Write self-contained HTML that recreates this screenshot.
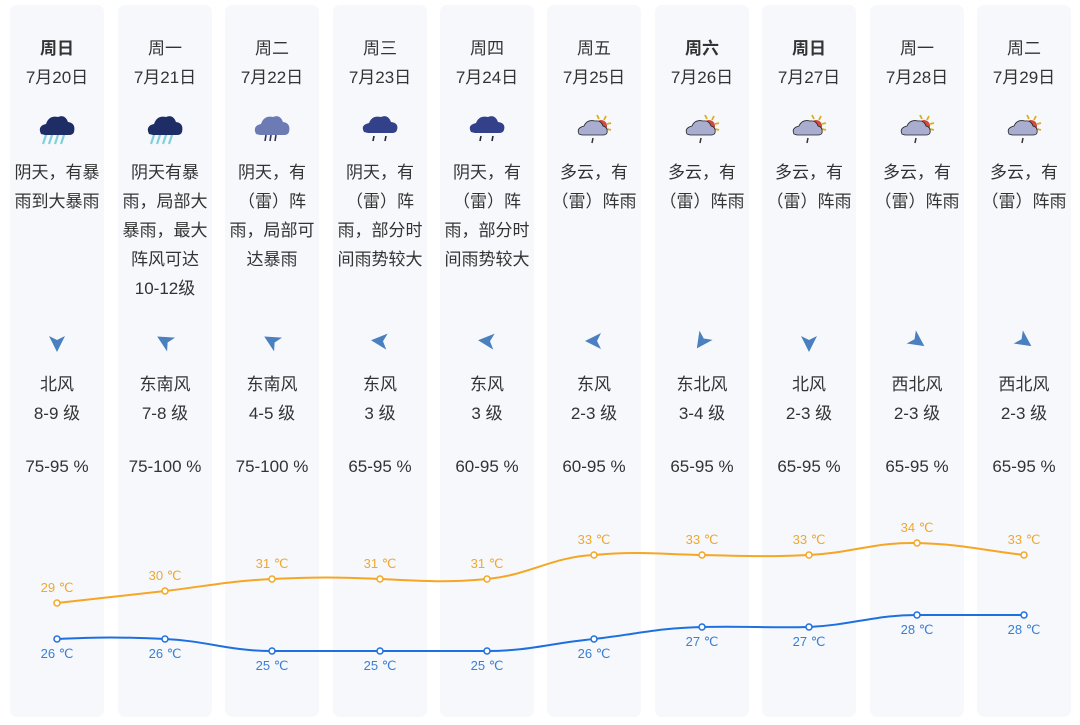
<!DOCTYPE html>
<html><head><meta charset="utf-8"><style>
body{margin:0;width:1080px;height:725px;background:#fff;position:relative;overflow:hidden;font-family:"Liberation Sans","Noto Sans CJK SC",sans-serif;color:#333}
.col{position:absolute;top:5px;width:94px;height:712px;background:#f6f8fc;border-radius:7px}
.t{position:absolute;width:108px;margin-left:-54px;text-align:center;font-size:17px;line-height:29px;white-space:nowrap}
svg{position:absolute;left:0;top:0}
</style></head><body>
<div class="col" style="left:10px"></div><div class="col" style="left:118px"></div><div class="col" style="left:225px"></div><div class="col" style="left:333px"></div><div class="col" style="left:440px"></div><div class="col" style="left:547px"></div><div class="col" style="left:655px"></div><div class="col" style="left:762px"></div><div class="col" style="left:870px"></div><div class="col" style="left:977px"></div>

<div class="t" style="left:57px;top:34px;font-weight:bold">周日<br><span style="font-weight:normal">7月20日</span></div>
<div class="t" style="left:165px;top:34px">周一<br>7月21日</div>
<div class="t" style="left:272px;top:34px">周二<br>7月22日</div>
<div class="t" style="left:380px;top:34px">周三<br>7月23日</div>
<div class="t" style="left:487px;top:34px">周四<br>7月24日</div>
<div class="t" style="left:594px;top:34px">周五<br>7月25日</div>
<div class="t" style="left:702px;top:34px;font-weight:bold">周六<br><span style="font-weight:normal">7月26日</span></div>
<div class="t" style="left:809px;top:34px;font-weight:bold">周日<br><span style="font-weight:normal">7月27日</span></div>
<div class="t" style="left:917px;top:34px">周一<br>7月28日</div>
<div class="t" style="left:1024px;top:34px">周二<br>7月29日</div>

<div class="t" style="left:57px;top:158px">阴天，有暴<br>雨到大暴雨</div>
<div class="t" style="left:165px;top:158px">阴天有暴<br>雨，局部大<br>暴雨，最大<br>阵风可达<br>10-12级</div>
<div class="t" style="left:272px;top:158px">阴天，有<br>（雷）阵<br>雨，局部可<br>达暴雨</div>
<div class="t" style="left:380px;top:158px">阴天，有<br>（雷）阵<br>雨，部分时<br>间雨势较大</div>
<div class="t" style="left:487px;top:158px">阴天，有<br>（雷）阵<br>雨，部分时<br>间雨势较大</div>
<div class="t" style="left:594px;top:158px">多云，有<br>（雷）阵雨</div>
<div class="t" style="left:702px;top:158px">多云，有<br>（雷）阵雨</div>
<div class="t" style="left:809px;top:158px">多云，有<br>（雷）阵雨</div>
<div class="t" style="left:917px;top:158px">多云，有<br>（雷）阵雨</div>
<div class="t" style="left:1024px;top:158px">多云，有<br>（雷）阵雨</div>

<div class="t" style="left:57px;top:370px">北风<br>8-9 级</div>
<div class="t" style="left:165px;top:370px">东南风<br>7-8 级</div>
<div class="t" style="left:272px;top:370px">东南风<br>4-5 级</div>
<div class="t" style="left:380px;top:370px">东风<br>3 级</div>
<div class="t" style="left:487px;top:370px">东风<br>3 级</div>
<div class="t" style="left:594px;top:370px">东风<br>2-3 级</div>
<div class="t" style="left:702px;top:370px">东北风<br>3-4 级</div>
<div class="t" style="left:809px;top:370px">北风<br>2-3 级</div>
<div class="t" style="left:917px;top:370px">西北风<br>2-3 级</div>
<div class="t" style="left:1024px;top:370px">西北风<br>2-3 级</div>

<div class="t" style="left:57px;top:452px">75-95 %</div>
<div class="t" style="left:165px;top:452px">75-100 %</div>
<div class="t" style="left:272px;top:452px">75-100 %</div>
<div class="t" style="left:380px;top:452px">65-95 %</div>
<div class="t" style="left:487px;top:452px">60-95 %</div>
<div class="t" style="left:594px;top:452px">60-95 %</div>
<div class="t" style="left:702px;top:452px">65-95 %</div>
<div class="t" style="left:809px;top:452px">65-95 %</div>
<div class="t" style="left:917px;top:452px">65-95 %</div>
<div class="t" style="left:1024px;top:452px">65-95 %</div>

<svg width="1080" height="725" viewBox="0 0 1080 725">
<defs>
<symbol id="rainA" viewBox="-20 -16 40 32" overflow="visible">
<g stroke="#7fd0e0" stroke-width="2.2"><line x1="-10" y1="2" x2="-14" y2="14"/><line x1="-4" y1="2" x2="-8" y2="14"/><line x1="2" y1="2" x2="-2" y2="14"/><line x1="8" y1="2" x2="4" y2="14"/></g>
<path d="M-16 4 Q-20 -4 -11 -6 Q-8 -15 1 -13 Q8 -16 11 -8 Q19 -7 17 2 Q16 5 12 5 L-12 5 Z" fill="#1f2d66"/>
</symbol>
<symbol id="rainB" viewBox="-20 -16 40 32" overflow="visible">
<g stroke="#335" stroke-width="1.6"><line x1="-6" y1="5" x2="-7" y2="11"/><line x1="-1" y1="5" x2="-2" y2="11"/><line x1="4" y1="5" x2="3" y2="11"/></g>
<path d="M-16 4 Q-20 -4 -11 -6 Q-8 -15 1 -13 Q8 -16 11 -8 Q19 -7 17 2 Q16 5 12 5 L-12 5 Z" fill="#6d7bb5"/>
</symbol>
<symbol id="rainC" viewBox="-20 -16 40 32" overflow="visible">
<g stroke="#223" stroke-width="1.6"><line x1="-6" y1="6" x2="-7" y2="11"/><line x1="6" y1="6" x2="5" y2="11"/></g>
<path d="M-16 2 Q-20 -5 -11 -7 Q-8 -15 1 -13 Q8 -16 11 -8 Q19 -7 17 0 Q16 3 12 3 L-12 3 Z" fill="#33418a"/>
</symbol>
<symbol id="sunC" viewBox="-20 -16 40 32" overflow="visible">
<g stroke="#d8b020" stroke-width="1.8"><line x1="5" y1="-11" x2="3" y2="-15"/><line x1="10" y1="-10" x2="12" y2="-14"/><line x1="13" y1="-6" x2="17" y2="-7"/><line x1="13" y1="-1" x2="17" y2="0"/></g>
<circle cx="7" cy="-4" r="6" fill="#d24a3a"/>
<path d="M-15 4 Q-18 -2 -10 -4 Q-7 -11 1 -9 Q7 -10 9 -4 Q14 -3 13 3 Q12 5 9 5 L-12 5 Z" fill="#a9aed0" stroke="#222" stroke-width="0.8"/>
<g stroke="#333" stroke-width="1.5"><line x1="-1" y1="8" x2="-2" y2="13"/></g>
</symbol>
<polygon id="arr" points="9,0 -7,-8 -3,0 -7,8" fill="#4a7fc0"/>
</defs>
<use href="#rainA" x="37" y="114" width="40" height="32"/>
<use href="#rainA" x="145" y="114" width="40" height="32"/>
<use href="#rainB" x="252" y="114" width="40" height="32"/>
<use href="#rainC" x="360" y="114" width="40" height="32"/>
<use href="#rainC" x="467" y="114" width="40" height="32"/>
<use href="#sunC" x="574" y="114" width="40" height="32"/>
<use href="#sunC" x="682" y="114" width="40" height="32"/>
<use href="#sunC" x="789" y="114" width="40" height="32"/>
<use href="#sunC" x="897" y="114" width="40" height="32"/>
<use href="#sunC" x="1004" y="114" width="40" height="32"/>

<use href="#arr" transform="translate(57,343) rotate(90)"/>
<use href="#arr" transform="translate(165,341) rotate(210)"/>
<use href="#arr" transform="translate(272,341) rotate(210)"/>
<use href="#arr" transform="translate(380,341) rotate(185)"/>
<use href="#arr" transform="translate(487,341) rotate(185)"/>
<use href="#arr" transform="translate(594,341) rotate(180)"/>
<use href="#arr" transform="translate(702,341) rotate(125)"/>
<use href="#arr" transform="translate(809,343) rotate(90)"/>
<use href="#arr" transform="translate(917,341) rotate(35)"/>
<use href="#arr" transform="translate(1024,341) rotate(35)"/>

<path fill="none" stroke="#f5a623" stroke-width="2" d="M57 603 C100 598 122 596 165 591 C208 586 229 581 272 579 C315 577 337 577 380 579 C423 581 444 583 487 579 C530 575 551 557 594 555 C637 551 659 554 702 555 C745 556 766 557 809 555 C852 553 874 542 917 543 C960 544 981 550 1024 555"/>
<path fill="none" stroke="#1e6fe0" stroke-width="2" d="M57 639 C100 637 122 637 165 639 C208 641 229 651 272 651 L487 651 C530 651 551 643 594 639 C637 634 659 628 702 627 C745 626 766 628 809 627 C852 625 874 615 917 615 L1024 615"/>
<g fill="#fff" stroke="#f5a623" stroke-width="1.5">
<circle cx="57" cy="603" r="3"/><circle cx="165" cy="591" r="3"/><circle cx="272" cy="579" r="3"/><circle cx="380" cy="579" r="3"/><circle cx="487" cy="579" r="3"/><circle cx="594" cy="555" r="3"/><circle cx="702" cy="555" r="3"/><circle cx="809" cy="555" r="3"/><circle cx="917" cy="543" r="3"/><circle cx="1024" cy="555" r="3"/></g>
<g fill="#fff" stroke="#1e6fe0" stroke-width="1.5">
<circle cx="57" cy="639" r="3"/><circle cx="165" cy="639" r="3"/><circle cx="272" cy="651" r="3"/><circle cx="380" cy="651" r="3"/><circle cx="487" cy="651" r="3"/><circle cx="594" cy="639" r="3"/><circle cx="702" cy="627" r="3"/><circle cx="809" cy="627" r="3"/><circle cx="917" cy="615" r="3"/><circle cx="1024" cy="615" r="3"/></g>
<g font-family="Liberation Sans, sans-serif" font-size="13" fill="#f0a830" text-anchor="middle">
<text x="57" y="592">29 ℃</text><text x="165" y="580">30 ℃</text><text x="272" y="568">31 ℃</text><text x="380" y="568">31 ℃</text><text x="487" y="568">31 ℃</text><text x="594" y="544">33 ℃</text><text x="702" y="544">33 ℃</text><text x="809" y="544">33 ℃</text><text x="917" y="532">34 ℃</text><text x="1024" y="544">33 ℃</text></g>
<g font-family="Liberation Sans, sans-serif" font-size="13" fill="#3a7fd5" text-anchor="middle">
<text x="57" y="658">26 ℃</text><text x="165" y="658">26 ℃</text><text x="272" y="670">25 ℃</text><text x="380" y="670">25 ℃</text><text x="487" y="670">25 ℃</text><text x="594" y="658">26 ℃</text><text x="702" y="646">27 ℃</text><text x="809" y="646">27 ℃</text><text x="917" y="634">28 ℃</text><text x="1024" y="634">28 ℃</text></g>
</svg>
</body></html>
